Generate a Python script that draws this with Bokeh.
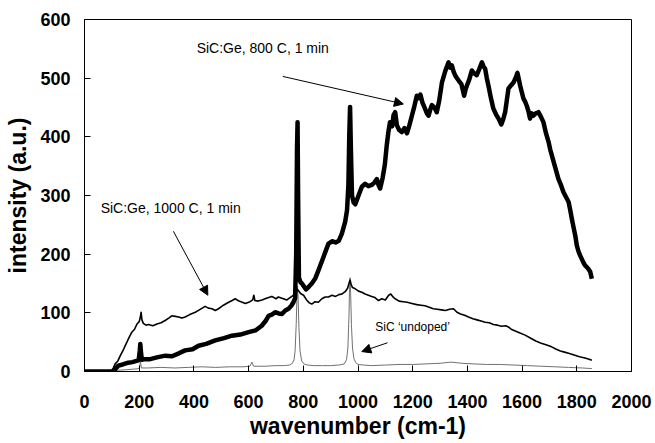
from bokeh.plotting import figure
from bokeh.models import Range1d, FixedTicker, Arrow, NormalHead
from bokeh.core.properties import value
from bokeh.embed import file_html
from bokeh.resources import INLINE

FONT = "Liberation Sans"

# ---- data ----
# SiC:Ge, 800 C, 1 min (thick line)
x800 = [0, 60, 100, 112, 124, 140, 160, 175, 190, 198,
        202, 204, 207, 210, 216, 240, 265, 295, 320, 345,
        368, 395, 417, 445, 478, 510, 539, 570, 600, 625,
        648, 662, 673, 685, 697, 710, 722, 734, 746, 756,
        764, 770, 774, 777, 779, 781, 784, 790, 795, 801,
        810, 819, 831, 843, 855, 868, 880, 892, 905, 918,
        930, 941, 953, 960, 965, 968, 971, 974, 978, 984,
        990, 1002, 1014, 1026, 1038, 1050, 1060, 1069, 1075, 1081,
        1090, 1098, 1105, 1111, 1117, 1125, 1130, 1136, 1142, 1150,
        1160, 1170, 1179, 1188, 1197, 1206, 1215, 1222, 1228, 1236,
        1245, 1252, 1258, 1264, 1270, 1279, 1288, 1297, 1307, 1319,
        1331, 1337, 1343, 1349, 1355, 1362, 1368, 1378, 1388, 1393,
        1398, 1407, 1416, 1425, 1434, 1443, 1453, 1459, 1465, 1471,
        1477, 1486, 1495, 1505, 1514, 1519, 1524, 1531, 1538, 1544,
        1550, 1560, 1569, 1576, 1583, 1588, 1593, 1599, 1605, 1611,
        1617, 1623, 1629, 1635, 1641, 1650, 1660, 1669, 1678, 1688,
        1697, 1703, 1709, 1721, 1733, 1742, 1751, 1760, 1770, 1776,
        1782, 1788, 1795, 1800, 1806, 1812, 1818, 1824, 1830, 1836,
        1842, 1849, 1855]
y800 = [0, 0, 0, 4, 10, 12, 15, 16, 18, 19,
        35, 47, 30, 20, 21, 21, 24, 27, 26, 31,
        36, 38, 44, 47, 53, 57, 61, 63, 67, 70,
        78, 86, 95, 97, 101, 99, 98, 104, 107, 112,
        118, 125, 200, 380, 425, 300, 160, 152, 150, 146,
        140, 144, 150, 158, 172, 188, 203, 218, 222, 220,
        223, 235, 255, 275, 320, 400, 451, 380, 300, 288,
        285, 300, 315, 320, 316, 318, 322, 328, 318, 312,
        330, 352, 385, 408, 425, 418, 437, 442, 420, 412,
        408, 415, 406, 420, 436, 452, 470, 466, 472, 458,
        448, 440, 436, 446, 454, 450, 442, 462, 493, 512,
        527, 518, 522, 512, 505, 500, 496, 490, 470, 480,
        487, 498, 513, 508, 505, 515, 527, 520, 516, 500,
        487, 466, 448, 438, 431, 426, 421, 430, 442, 462,
        482, 488, 493, 500, 509, 498, 487, 476, 465, 460,
        453, 444, 431, 440, 436, 440, 442, 434, 425, 405,
        391, 378, 368, 348, 328, 318, 306, 298, 289, 275,
        260, 246, 230, 215, 205, 198, 192, 186, 181, 178,
        175, 170, 158]

# SiC:Ge, 1000 C, 1 min (thin black line)
x1000 = [0, 60, 100, 112, 122, 131, 140, 149, 160, 173,
         183, 192, 200, 204, 207, 210, 215, 225, 234, 250,
         265, 280, 295, 308, 319, 332, 344, 356, 368, 385,
         405, 420, 441, 453, 466, 478, 490, 508, 527, 540,
         551, 565, 588, 605, 615, 619, 623, 635, 649, 665,
         685, 700, 709, 722, 740, 758, 770, 779, 790, 801,
         812, 822, 831, 843, 855, 868, 880, 892, 905, 918,
         930, 941, 953, 962, 967, 971, 975, 980, 990, 1002,
         1014, 1026, 1038, 1050, 1062, 1075, 1087, 1100, 1112, 1120,
         1128, 1136, 1150, 1165, 1180, 1197, 1215, 1230, 1245, 1258,
         1275, 1290, 1305, 1319, 1335, 1349, 1362, 1375, 1390, 1404,
         1420, 1435, 1450, 1465, 1480, 1495, 1510, 1525, 1540, 1550,
         1560, 1575, 1590, 1611, 1630, 1650, 1670, 1690, 1708, 1725,
         1740, 1755, 1770, 1790, 1810, 1830, 1845, 1855]
y1000 = [0, 0, 0, 13, 18, 27, 35, 44, 55, 67,
         72, 81, 85, 92, 101, 88, 82, 79, 80, 78,
         81, 83, 87, 91, 95, 94, 93, 91, 93, 97,
         101, 105, 111, 108, 107, 104, 107, 113, 118, 121,
         124, 120, 116, 119, 122, 130, 121, 120, 122, 125,
         128, 124, 127, 125, 122, 128, 132, 140, 133, 130,
         122, 117, 115, 119, 118, 124, 127, 127, 130, 128,
         131, 132, 136, 142, 150, 156, 148, 143, 141, 137,
         135, 132, 130, 128, 126, 121, 124, 122, 130, 132,
         127, 124, 120, 119, 118, 116, 114, 113, 112, 110,
         107, 106, 105, 104, 106, 107, 101, 98, 96, 93,
         90, 88, 86, 84, 83, 80, 79, 77, 78, 76,
         72, 69, 66, 62, 57, 52, 48, 45, 42, 38,
         35, 33, 31, 28, 25, 23, 21, 19]

# SiC 'undoped' (thin grey line)
xund = [0, 60, 100, 120, 150, 180, 200, 203, 205, 208,
        230, 280, 330, 380, 430, 480, 530, 580, 605, 612,
        618, 660, 700, 730, 750, 760, 766, 770, 774, 777,
        779, 781, 784, 788, 794, 802, 815, 840, 870, 900,
        930, 950, 958, 963, 967, 969, 971, 973, 976, 980,
        985, 992, 1000, 1020, 1050, 1100, 1150, 1200, 1250, 1300,
        1340, 1380, 1420, 1470, 1520, 1570, 1620, 1670, 1720, 1770,
        1820, 1855]
yund = [0, 0, 0, 2, 3, 4, 5, 12, 16, 6,
        6, 7, 6, 7, 8, 7, 8, 8, 9, 16,
        9, 9, 10, 10, 11, 14, 20, 35, 80, 130,
        145, 125, 75, 35, 18, 13, 11, 10, 10, 10,
        11, 13, 20, 40, 95, 140, 160, 135, 80, 40,
        22, 15, 12, 11, 10, 11, 12, 12, 13, 14,
        16, 14, 13, 12, 12, 11, 10, 9, 8, 7,
        6, 5]

x_ticks = [0, 200, 400, 600, 800, 1000, 1200, 1400, 1600, 1800, 2000]
y_ticks = [0, 100, 200, 300, 400, 500, 600]

# annotations: label text, label anchor, arrow tail, arrow head
ann_text = ["SiC:Ge, 800 C, 1 min", "SiC:Ge, 1000 C, 1 min", "SiC \u2018undoped\u2019"]
ann_x = [410, 59, 1063]
ann_y = [551, 279, 76]
ann_size = ["14px", "14px", "12px"]
arr_x0 = [725, 325, 1108]
arr_y0 = [503, 239, 49]
arr_x1 = [1166, 451, 1014]
arr_y1 = [456, 130, 34]

assert len(x800) == len(y800) and len(x1000) == len(y1000) and len(xund) == len(yund)

p = figure(width=653, height=442, output_backend="svg", toolbar_location=None,
           x_range=Range1d(0, 2000), y_range=Range1d(0, 600),
           min_border_left=84, min_border_right=22, min_border_top=19,
           min_border_bottom=71)
p.background_fill_color = "white"
p.border_fill_color = "white"
p.xgrid.visible = False
p.ygrid.visible = False
p.outline_line_color = "black"
p.outline_line_width = 1

p.line(xund, yund, line_color="#707070", line_width=1)
p.line(x1000, y1000, line_color="black", line_width=1.6, line_join="round")
p.line(x800, y800, line_color="black", line_width=4.5, line_join="round")

for i in range(len(ann_text)):
    p.text(x=[ann_x[i]], y=[ann_y[i]], text=[ann_text[i]],
           text_font=value(FONT), text_font_size=ann_size[i],
           text_align="left", text_baseline="middle", text_color="black")
    p.add_layout(Arrow(end=NormalHead(size=9, fill_color="black", line_color="black", line_width=1),
                       x_start=arr_x0[i], y_start=arr_y0[i], x_end=arr_x1[i], y_end=arr_y1[i],
                       line_color="black", line_width=1))

p.xaxis.ticker = FixedTicker(ticks=x_ticks)
p.yaxis.ticker = FixedTicker(ticks=y_ticks)
p.xaxis.axis_label = "wavenumber (cm-1)"
p.yaxis.axis_label = "intensity (a.u.)"
for ax in (p.xaxis[0], p.yaxis[0]):
    ax.axis_line_color = "black"
    ax.major_tick_line_color = "black"
    ax.major_tick_in = 6
    ax.major_tick_out = 0
    ax.minor_tick_line_color = None
    ax.major_label_text_font = FONT
    ax.major_label_text_font_style = "bold"
    ax.major_label_text_font_size = "18px"
    ax.major_label_text_color = "black"
    ax.axis_label_text_font = FONT
    ax.axis_label_text_font_style = "bold"
    ax.axis_label_text_font_size = "23px"
    ax.axis_label_text_color = "black"
p.xaxis.major_label_standoff = 23
p.xaxis.axis_label_standoff = 2
p.yaxis.major_label_standoff = 14
p.yaxis.axis_label_standoff = 6

open("out.html", "w").write(file_html(p, INLINE))
